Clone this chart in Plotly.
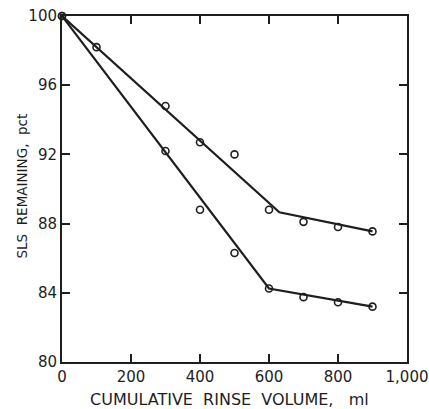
import plotly.graph_objects as go

# Measured points
volume = [0, 100, 300, 400, 500, 600, 700, 800, 900]
upper_pct = [100, 98.2, 94.8, 92.7, 92.0, 88.8, 88.1, 87.8, 87.55]
volume_low = [0, 300, 400, 500, 600, 700, 800, 900]
lower_pct = [100, 92.2, 88.8, 86.3, 84.25, 83.75, 83.45, 83.2]

# Fitted line breakpoints
upper_fit_x = [0, 630, 900]
upper_fit_y = [100, 88.65, 87.55]
lower_fit_x = [0, 600, 900]
lower_fit_y = [100, 84.25, 83.2]

x_ticks = [0, 200, 400, 600, 800, 1000]
x_tick_text = ["0", "200", "400", "600", "800", "1,000"]
y_ticks = [80, 84, 88, 92, 96, 100]

ink = "#1e1e1e"
font = "DejaVu Sans"

fig = go.Figure()
for fx, fy in [(upper_fit_x, upper_fit_y), (lower_fit_x, lower_fit_y)]:
    fig.add_trace(go.Scatter(x=fx, y=fy, mode="lines",
                             line=dict(color=ink, width=2.2),
                             showlegend=False, hoverinfo="skip", cliponaxis=False))
for px, py in [(volume, upper_pct), (volume_low, lower_pct)]:
    fig.add_trace(go.Scatter(x=px, y=py, mode="markers",
                             marker=dict(symbol="circle-open", size=7,
                                         color=ink, line=dict(width=1.6, color=ink)),
                             showlegend=False, cliponaxis=False))

axis_common = dict(showgrid=False, zeroline=False, showline=True, linecolor=ink,
                   linewidth=2, mirror="allticks", ticks="inside", ticklen=8,
                   tickwidth=1.5, tickcolor=ink, automargin=False,
                   tickfont=dict(family=font, size=15, color=ink))

fig.update_layout(
    width=429, height=409,
    margin=dict(l=62, r=22, t=16, b=47),
    paper_bgcolor="white", plot_bgcolor="white",
    xaxis=dict(range=[0, 1000], tickvals=x_ticks, ticktext=x_tick_text, **axis_common),
    yaxis=dict(range=[80, 100], tickvals=y_ticks, **axis_common),
    annotations=[
        dict(text="CUMULATIVE\u00a0\u00a0RINSE\u00a0\u00a0VOLUME,\u00a0\u00a0\u00a0ml",
             xref="paper", yref="paper",
             x=0.485, y=-0.107, xanchor="center", yanchor="middle", showarrow=False,
             font=dict(family=font, size=16, color=ink)),
        dict(text="SLS\u00a0\u00a0REMAINING,\u00a0\u00a0pct", xref="paper", yref="paper",
             x=-0.116, y=0.51, xanchor="center", yanchor="middle", showarrow=False,
             textangle=-90, font=dict(family=font, size=13.5, color=ink)),
    ],
)

fig.write_html("out.html", config={"displayModeBar": False},
               post_script="document.body.style.margin='0';document.body.style.overflow='hidden';")
